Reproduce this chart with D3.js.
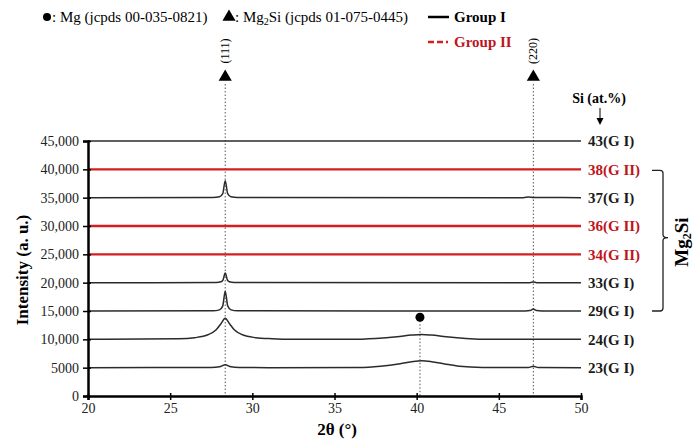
<!DOCTYPE html>
<html>
<head>
<meta charset="utf-8">
<script src="https://cdn.jsdelivr.net/npm/d3@7"></script>
<style>
  body { margin: 0; background: #fff; }
  svg text { font-family: "Liberation Serif", "Times New Roman", serif; }
</style>
</head>
<body>
<svg id="chart" width="695" height="441"></svg>
<script>
// x ticks and y ticks
var xTicks = [20, 25, 30, 35, 40, 45, 50];
var yTicks = [0, 5000, 10000, 15000, 20000, 25000, 30000, 35000, 40000, 45000];
var yTickLabels = ["0", "5000", "10,000", "15,000", "20,000", "25,000", "30,000", "35,000", "40,000", "45,000"];

// series, top to bottom: [2theta, intensity] points
var s43 = [[20, 45000], [50, 45000]];
var s38 = [[20, 40000], [50, 40000]];
var s37 = [[20, 35000], [27.6, 35020], [28.0, 35150], [28.2, 35700], [28.35, 38000], [28.5, 35700], [28.7, 35150], [29.1, 35020],
           [46.5, 35000], [46.8, 35120], [47.1, 35050], [50, 35000]];
var s36 = [[20, 30000], [50, 30000]];
var s34 = [[20, 25000], [50, 25000]];
var s33 = [[20, 20000], [27.8, 20020], [28.1, 20150], [28.22, 20500], [28.35, 21700], [28.48, 20500], [28.6, 20150], [28.9, 20020],
           [46.9, 20000], [47.1, 20120], [47.3, 20000], [50, 20000]];
var s29 = [[20, 15000], [27.6, 15030], [28.0, 15200], [28.2, 15900], [28.35, 18500], [28.5, 15900], [28.7, 15200], [29.1, 15030],
           [46.6, 15000], [46.9, 15080], [47.1, 15350], [47.3, 15080], [47.6, 15000], [50, 15000]];
var s24 = [[20, 10000], [25.5, 10100], [26.5, 10300], [27.3, 10800], [27.8, 11700], [28.1, 12800], [28.35, 13700], [28.6, 12800],
           [28.9, 11700], [29.4, 10800], [30.2, 10300], [31.2, 10100], [32.5, 10000], [36, 10000], [37.5, 10150], [38.8, 10450],
           [39.7, 10750], [40.3, 10870], [40.9, 10750], [41.8, 10450], [43, 10150], [44.5, 10000], [50, 10000]];
var s23 = [[20, 5000], [27.5, 5030], [28.0, 5150], [28.35, 5500], [28.7, 5150], [29.2, 5030], [31, 5000], [36.5, 5020],
           [37.8, 5250], [39.0, 5700], [39.8, 6100], [40.3, 6200], [40.9, 6050], [41.7, 5650], [42.6, 5250], [44, 5040],
           [46.8, 5020], [47.1, 5250], [47.4, 5020], [50, 5000]];

var seriesData = [s43, s38, s37, s36, s34, s33, s29, s24, s23];
var seriesNames = ["43(G I)", "38(G II)", "37(G I)", "36(G II)", "34(G II)", "33(G I)", "29(G I)", "24(G I)", "23(G I)"];
var seriesGroup = ["I", "II", "I", "II", "II", "I", "I", "I", "I"];
var seriesBase = [45000, 40000, 35000, 30000, 25000, 20000, 15000, 10000, 5000];

// reference peak positions
var mg2siPeaks = [28.35, 47.1];
var mg2siHkl = ["(111)", "(220)"];
var mgPeaks = [[40.2, 13900]];

var black = "#2b2b2b", red = "#d21f1f", redText = "#c0141c";

var svg = d3.select("#chart");
var x = d3.scaleLinear().domain([20, 50]).range([88, 581]);
var y = d3.scaleLinear().domain([0, 45000]).range([396, 141]);

// dotted guide lines
mg2siPeaks.forEach(function(p){
    svg.append("line")
	.attr("x1", x(p)).attr("x2", x(p))
	.attr("y1", 84).attr("y2", y(0))
	.attr("stroke", "#555").attr("stroke-width", 1)
	.attr("stroke-dasharray", "1.5,2");
});
mgPeaks.forEach(function(p){
    svg.append("line")
	.attr("x1", x(p[0])).attr("x2", x(p[0]))
	.attr("y1", y(p[1])).attr("y2", y(0))
	.attr("stroke", "#555").attr("stroke-width", 1)
	.attr("stroke-dasharray", "1.5,2");
});

// patterns
var line = d3.line()
    .x(function(d){ return x(d[0]); })
    .y(function(d){ return y(d[1]); })
    .curve(d3.curveMonotoneX);

seriesData.forEach(function(S, i){
    var isII = seriesGroup[i] === "II";
    svg.append("path")
	.attr("d", line(S))
	.attr("fill", "none")
	.attr("stroke", isII ? red : black)
	.attr("stroke-width", isII ? 2.4 : 1.5);

    svg.append("text")
	.attr("x", 588).attr("y", y(seriesBase[i]))
	.attr("dy", "0.35em")
	.attr("font-size", 15).attr("font-weight", "bold")
	.attr("fill", isII ? redText : "#1a1a1a")
	.text(seriesNames[i]);
});

// axes
var yAxis = svg.append("g")
    .attr("transform", "translate(" + x(20) + ",0)")
    .call(d3.axisLeft(y).tickValues(yTicks).tickSize(5).tickPadding(4)
	  .tickFormat(function(d, i){ return yTickLabels[i]; }));
yAxis.select(".domain").attr("stroke", "#000").attr("stroke-width", 2.5);
yAxis.selectAll(".tick line").attr("x1", 3).attr("stroke-width", 1.5);
yAxis.selectAll(".tick text").attr("font-size", 14).attr("fill", "#222");

var xAxis = svg.append("g")
    .attr("transform", "translate(0," + y(0) + ")")
    .call(d3.axisBottom(x).tickValues(xTicks).tickSize(4).tickPadding(3));
xAxis.select(".domain").attr("stroke", "#000").attr("stroke-width", 2.5);
xAxis.selectAll(".tick line").attr("y1", -3).attr("stroke-width", 1.5);
xAxis.selectAll(".tick text").attr("font-size", 14).attr("fill", "#222");

// axis titles
svg.append("text")
    .attr("x", 337).attr("y", 435)
    .attr("text-anchor", "middle")
    .attr("font-size", 17).attr("font-weight", "bold")
    .text("2\u03B8 (\u00B0)");

svg.append("text")
    .attr("transform", "translate(28,270) rotate(-90)")
    .attr("text-anchor", "middle")
    .attr("font-size", 17).attr("font-weight", "bold")
    .text("Intensity (a. u.)");

// Mg2Si markers with hkl labels
var tri = d3.symbol().type(d3.symbolTriangle).size(75);
mg2siPeaks.forEach(function(p, i){
    svg.append("path")
	.attr("d", tri())
	.attr("transform", "translate(" + x(p) + ",77)")
	.attr("fill", "#000");
    svg.append("text")
	.attr("transform", "translate(" + (x(p) + 4) + ",51) rotate(-90)")
	.attr("text-anchor", "middle")
	.attr("font-size", 12)
	.text(mg2siHkl[i]);
});

// Mg marker
mgPeaks.forEach(function(p){
    svg.append("circle")
	.attr("cx", x(p[0])).attr("cy", y(p[1]))
	.attr("r", 4.5).attr("fill", "#000");
});

// legend
var leg = svg.append("g").attr("font-size", 15);
leg.append("circle").attr("cx", 47).attr("cy", 17).attr("r", 4).attr("fill", "#000");
leg.append("text").attr("x", 52).attr("y", 22).text(": Mg (jcpds 00-035-0821)");
leg.append("path").attr("d", tri()).attr("transform", "translate(229,17)").attr("fill", "#000");
var t2 = leg.append("text").attr("x", 235).attr("y", 22);
t2.append("tspan").text(": Mg");
t2.append("tspan").attr("font-size", 10).attr("dy", 3).text("2");
t2.append("tspan").attr("dy", -3).text("Si (jcpds 01-075-0445)");

leg.append("line").attr("x1", 428).attr("x2", 449).attr("y1", 17).attr("y2", 17)
    .attr("stroke", "#000").attr("stroke-width", 2.5);
leg.append("text").attr("x", 454).attr("y", 22).attr("font-weight", "bold").text("Group I");
leg.append("line").attr("x1", 428).attr("x2", 451).attr("y1", 42).attr("y2", 42)
    .attr("stroke", red).attr("stroke-width", 2.5).attr("stroke-dasharray", "6,3,6,3,2");
leg.append("text").attr("x", 454).attr("y", 47).attr("font-weight", "bold")
    .attr("fill", redText).text("Group II");

// Si (at.%) note with arrow
svg.append("text")
    .attr("x", 599).attr("y", 103)
    .attr("text-anchor", "middle")
    .attr("font-size", 14).attr("font-weight", "bold")
    .text("Si (at.%)");
svg.append("line")
    .attr("x1", 600).attr("x2", 600).attr("y1", 108).attr("y2", 120)
    .attr("stroke", "#000").attr("stroke-width", 1);
svg.append("path")
    .attr("d", "M596.5,118 L600,125 L603.5,118 Z")
    .attr("fill", "#000");

// brace for Mg2Si group
var bTop = y(40000) + 1, bBot = y(15000), bMid = (bTop + bBot) / 2 - 3;
svg.append("path")
    .attr("d", "M652," + bTop + " L660," + bTop + " Q663," + bTop + " 663," + (bTop + 3) +
	  " L663," + (bMid - 3) + " Q663," + bMid + " 668," + bMid +
	  " Q663," + bMid + " 663," + (bMid + 3) +
	  " L663," + (bBot - 3) + " Q663," + bBot + " 660," + bBot + " L652," + bBot)
    .attr("fill", "none").attr("stroke", "#222").attr("stroke-width", 1.3);

var mgSi = svg.append("text")
    .attr("transform", "translate(688,242) rotate(-90)")
    .attr("text-anchor", "middle")
    .attr("font-size", 19).attr("font-weight", "bold");
mgSi.append("tspan").text("Mg");
mgSi.append("tspan").attr("font-size", 12).attr("dy", 3).text("2");
mgSi.append("tspan").attr("dy", -3).text("Si");
</script>
</body>
</html>
